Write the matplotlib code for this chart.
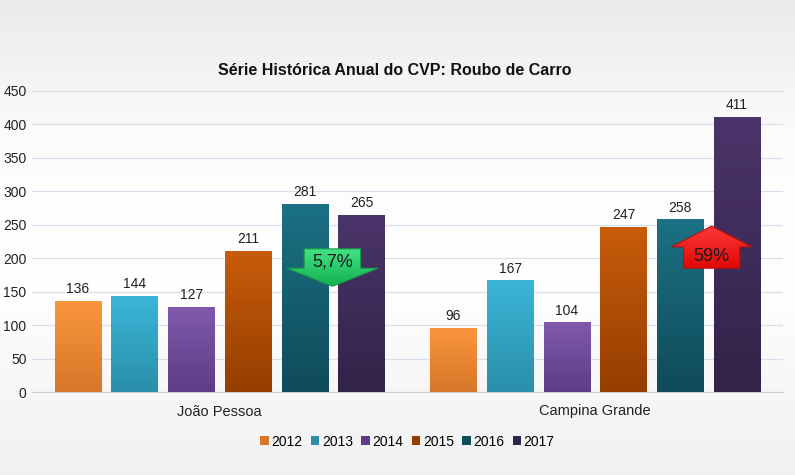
import numpy as np
import matplotlib
matplotlib.use("Agg")
import matplotlib.pyplot as plt
from matplotlib.patches import Polygon
from matplotlib.colors import LinearSegmentedColormap

plt.rcParams['font.family'] = ['Liberation Sans Narrow', 'Liberation Sans', 'DejaVu Sans']

cities = ["João Pessoa", "Campina Grande"]
years = ["2012", "2013", "2014", "2015", "2016", "2017"]
values = {
    "2012": [136, 96],
    "2013": [144, 167],
    "2014": [127, 104],
    "2015": [211, 247],
    "2016": [281, 258],
    "2017": [265, 411],
}
# (top colour, bottom colour) for each year
colors = {
    "2012": ("#f9963c", "#d8762a"),
    "2013": ("#3bb6d8", "#2a8fa9"),
    "2014": ("#8059ad", "#5d3e85"),
    "2015": ("#c85c0b", "#953e00"),
    "2016": ("#1c7184", "#0f4b5a"),
    "2017": ("#4b346a", "#322348"),
}
changes = ["5,7%", "59%"]

fig = plt.figure(figsize=(7.95, 4.75), dpi=100)

# background gradient of the whole figure
bg = fig.add_axes([0, 0, 1, 1], zorder=-10)
bg.axis("off")
rows = np.linspace(0, 1, 200)
shade = np.interp(rows, [0, 0.3, 0.6, 0.8, 1], [0.92, 0.99, 1.0, 0.97, 0.945])
bg.imshow(np.dstack([shade, shade, shade]).reshape(200, 1, 3), aspect="auto",
          extent=[0, 1, 0, 1])

ax = fig.add_axes([32 / 795, 83 / 475, 751 / 795, 301 / 475])
ax.patch.set_alpha(0)

x = np.arange(len(cities))
width = 0.124
step = 0.151

for i, yr in enumerate(years):
    pos = x + (i - 2.5) * step
    bars = ax.bar(pos, values[yr], width, color=colors[yr][1], label=yr, zorder=2)
    cmap = LinearSegmentedColormap.from_list("g" + yr, [colors[yr][1], colors[yr][0]])
    for b in bars:
        bx, by = b.get_x(), b.get_y()
        bw, bh = b.get_width(), b.get_height()
        im = ax.imshow(np.linspace(1, 0, 100).reshape(100, 1), cmap=cmap, aspect="auto",
                       extent=[bx, bx + bw, by, by + bh], zorder=3)
        im.set_clip_path(b)
        ax.text(bx + bw / 2, bh + 7, str(int(bh)), ha="center", va="bottom",
                fontsize=10, color="#222222", zorder=5)

ax.set_xlim(-0.5, 1.5)
ax.set_ylim(0, 450)
ax.set_yticks(np.arange(0, 451, 50))
ax.set_xticks(x)
ax.set_xticklabels(cities, fontsize=10.5, color="#222222")
ax.tick_params(axis="y", length=0, labelsize=10, colors="#222222", pad=4)
ax.tick_params(axis="x", length=0, pad=9)
ax.grid(axis="y", color="#d6dfec", linewidth=0.9, zorder=0)
for s in ["top", "right", "left"]:
    ax.spines[s].set_visible(False)
ax.spines["bottom"].set_color("#d0d0d0")
ax.spines["bottom"].set_zorder(1)


def arrow(cx, hw, bw, y_body, y_base, y_tip, top, bottom, edge, label, ty):
    pts = [(cx - bw, y_body), (cx + bw, y_body), (cx + bw, y_base), (cx + hw, y_base),
           (cx, y_tip), (cx - hw, y_base), (cx - bw, y_base)]
    poly = Polygon(pts, closed=True, facecolor="none", edgecolor=edge, linewidth=0.8, zorder=7)
    ax.add_patch(poly)
    cmap = LinearSegmentedColormap.from_list("a" + label, [bottom, top])
    lo, hi = min(y_body, y_tip), max(y_body, y_tip)
    im = ax.imshow(np.linspace(1, 0, 100).reshape(100, 1), cmap=cmap, aspect="auto",
                   extent=[cx - hw, cx + hw, lo, hi], zorder=6)
    im.set_clip_path(poly)
    ax.text(cx, ty, label, ha="center", va="center", fontsize=13, color="#1a1a1a", zorder=8)


# green decrease arrow for João Pessoa, red increase arrow for Campina Grande
arrow(0.30, 0.121, 0.075, 214, 185, 158, "#44e487", "#12b050", "#1a9c48", changes[0], 194)
arrow(1.31, 0.107, 0.075, 185, 217, 248, "#ff3a3a", "#e00808", "#b81010", changes[1], 203)

fig.text(0.497, 0.852, "Série Histórica Anual do CVP: Roubo de Carro", ha="center",
         va="center", fontsize=11.5, fontweight="bold", color="#111111")

leg = ax.legend(loc="upper center", bbox_to_anchor=(0.5, -0.1), ncol=6, frameon=False,
                fontsize=10, handlelength=0.6, handleheight=0.6, handletextpad=0.2,
                columnspacing=0.6)

fig.savefig("out.png", dpi=100)
